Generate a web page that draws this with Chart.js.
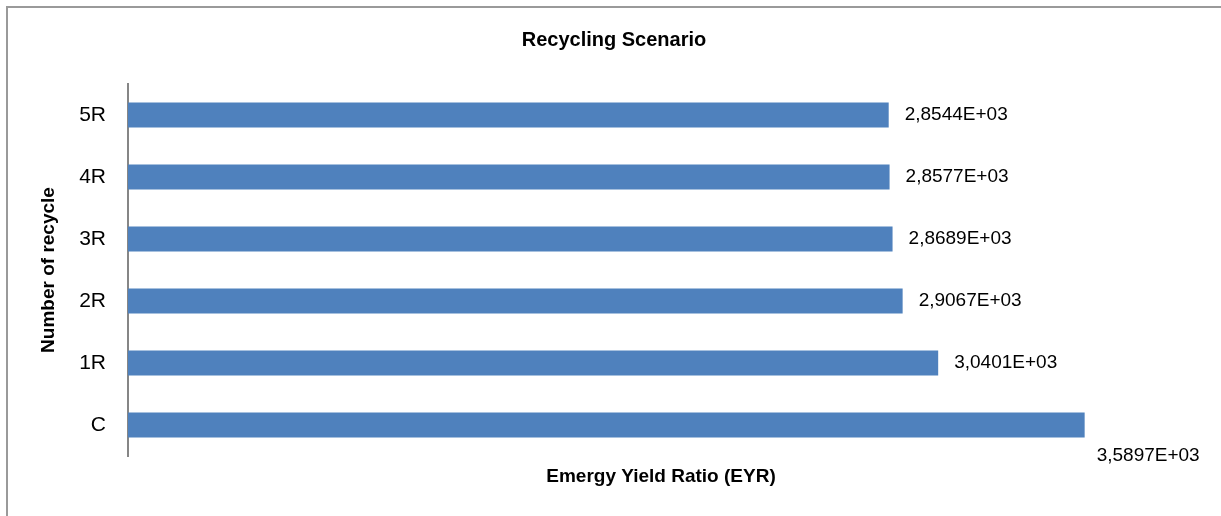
<!DOCTYPE html>
<html>
<head>
<meta charset="utf-8">
<script src="https://cdn.jsdelivr.net/npm/chart.js@4"></script>
<style>
  html, body { margin: 0; padding: 0; background: #fff; }
  #wrap { width: 1221px; height: 516px; }
</style>
</head>
<body>
<div id="wrap"><canvas id="eyrChart" width="1221" height="516"></canvas></div>
<script>
// Dati (dall'alto verso il basso)
const categories = ['5R', '4R', '3R', '2R', '1R', 'C'];
const eyrValues = [2854.4, 2857.7, 2868.9, 2906.7, 3040.1, 3589.7];
const chartTitle = 'Recycling Scenario';

const FONT = "'Liberation Sans', Arial, sans-serif";

// formato tipo Excel: 2,8544E+03
function fmtSci(v) {
    const exp = Math.floor(Math.log10(Math.abs(v)));
    const mant = (v / Math.pow(10, exp)).toFixed(4).replace('.', ',');
    const e = (exp < 0 ? '-' : '+') + String(Math.abs(exp)).padStart(2, '0');
    return mant + 'E' + e;
}

// cornice grigia (solo lati visibili nel ritaglio) + titolo centrato sulla pagina
const framePlugin = {
    id: 'frame',
    beforeDraw(chart) {
        const ctx = chart.ctx;
        ctx.save();
        ctx.strokeStyle = '#9a9a9a';
        ctx.lineWidth = 2;
        ctx.beginPath();
        ctx.moveTo(7, chart.height);
        ctx.lineTo(7, 7);
        ctx.lineTo(chart.width, 7);
        ctx.stroke();

        ctx.font = 'bold 20px ' + FONT;
        ctx.fillStyle = '#000';
        ctx.textAlign = 'center';
        ctx.textBaseline = 'middle';
        ctx.fillText(chartTitle, 614, 40);
        ctx.restore();
    }
};

// etichette dei valori a destra delle barre
const valueLabels = {
    id: 'valueLabels',
    afterDatasetsDraw(chart) {
        const ctx = chart.ctx;
        const meta = chart.getDatasetMeta(0);
        ctx.save();
        ctx.font = '19px ' + FONT;
        ctx.fillStyle = '#000';
        ctx.textBaseline = 'middle';
        ctx.textAlign = 'left';
        meta.data.forEach((bar, i) => {
            const txt = fmtSci(chart.data.datasets[0].data[i]);
            const w = ctx.measureText(txt).width;
            let x = bar.x + 16;
            let y = bar.y;
            if (x + w > chart.chartArea.right) {
                // non ci sta: sotto la barra
                x = bar.x + 12;
                y = bar.y + 31;
            }
            ctx.fillText(txt, x, y);
        });
        ctx.restore();
    }
};

const ctx = document.getElementById('eyrChart').getContext('2d');
window.eyrChart = new Chart(ctx, {
    type: 'bar',
    data: {
        labels: categories,
        datasets: [{
            label: 'EYR',
            data: eyrValues,
            backgroundColor: '#4f81bd',
            categoryPercentage: 1,
            barPercentage: 0.4
        }]
    },
    options: {
        indexAxis: 'y',
        responsive: false,
        animation: false,
        layout: {
            padding: { left: 8, right: 27, top: 84, bottom: 0 }
        },
        plugins: {
            legend: { display: false },
            tooltip: { enabled: false },
            title: { display: false }
        },
        scales: {
            x: {
                min: 0,
                max: 4000,
                grid: { display: false, drawTicks: false },
                border: { display: false },
                ticks: { display: false },
                title: {
                    display: true,
                    text: 'Emergy Yield Ratio (EYR)',
                    color: '#000',
                    font: { family: FONT, size: 19, weight: 'bold' },
                    padding: { top: 0, bottom: 27.6 }
                },
                afterFit(scale) { scale.height = 60; }
            },
            y: {
                grid: { display: false, drawTicks: false },
                border: { display: true, color: '#868686', width: 2 },
                ticks: {
                    color: '#000',
                    padding: 22,
                    font: { family: FONT, size: 21 }
                },
                title: {
                    display: true,
                    text: 'Number of recycle',
                    color: '#000',
                    font: { family: FONT, size: 19, weight: 'bold' },
                    padding: { top: 29.6, bottom: 0 }
                },
                afterFit(scale) { scale.width = 120; }
            }
        }
    },
    plugins: [framePlugin, valueLabels]
});
</script>
</body>
</html>
